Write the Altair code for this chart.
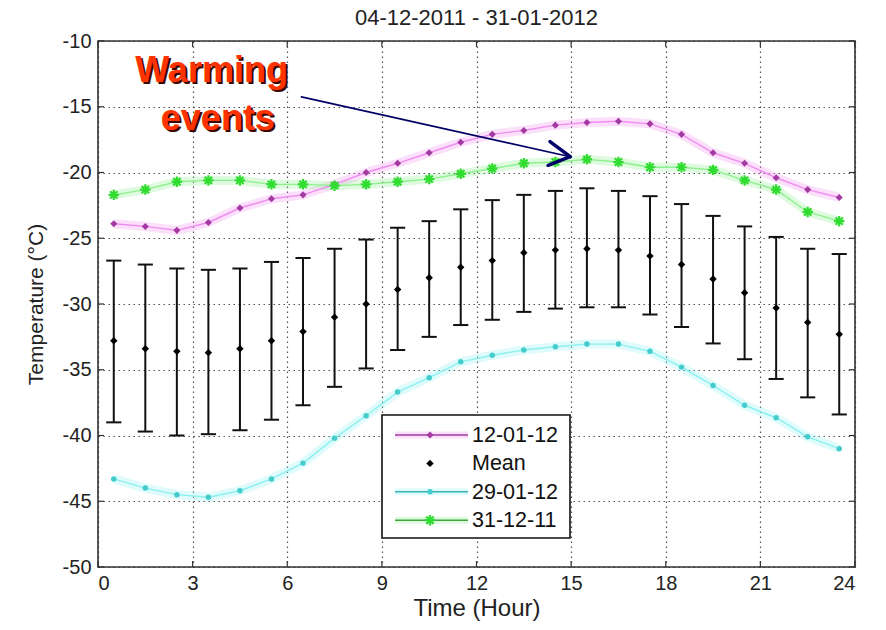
import altair as alt
import pandas as pd

# ---- data -------------------------------------------------------------
HOURS = [0.5, 1.5, 2.5, 3.5, 4.5, 5.5, 6.5, 7.5, 8.5, 9.5, 10.5, 11.5,
         12.5, 13.5, 14.5, 15.5, 16.5, 17.5, 18.5, 19.5, 20.5, 21.5, 22.5, 23.5]

T_120112 = [-23.9, -24.1, -24.4, -23.8, -22.7, -22.0, -21.7, -20.9, -20.0, -19.3, -18.5, -17.7,
            -17.1, -16.8, -16.4, -16.2, -16.1, -16.3, -17.1, -18.5, -19.3, -20.4, -21.3, -21.9]
T_290112 = [-43.3, -44.0, -44.5, -44.7, -44.2, -43.3, -42.1, -40.2, -38.5, -36.7, -35.6, -34.4,
            -33.9, -33.5, -33.25, -33.05, -33.05, -33.6, -34.8, -36.2, -37.7, -38.65, -40.1, -41.0]
T_311211 = [-21.7, -21.3, -20.7, -20.6, -20.6, -20.9, -20.9, -21.0, -20.9, -20.7, -20.5, -20.1,
            -19.7, -19.3, -19.2, -19.0, -19.2, -19.6, -19.6, -19.8, -20.6, -21.3, -23.0, -23.7]

MEAN = [-32.8, -33.4, -33.6, -33.7, -33.4, -32.8, -32.1, -31.0, -30.0, -28.9, -28.0, -27.2,
        -26.7, -26.1, -25.9, -25.8, -25.9, -26.35, -27.0, -28.1, -29.15, -30.3, -31.4, -32.3]
UPPER = [-26.7, -27.0, -27.3, -27.4, -27.3, -26.8, -26.5, -25.8, -25.1, -24.2, -23.7, -22.8,
         -22.1, -21.7, -21.4, -21.2, -21.4, -21.8, -22.4, -23.3, -24.1, -24.9, -25.8, -26.2]
LOWER = [-39.0, -39.7, -40.0, -39.9, -39.6, -38.8, -37.7, -36.3, -34.9, -33.5, -32.5, -31.6,
         -31.2, -30.6, -30.35, -30.25, -30.25, -30.8, -31.75, -33.0, -34.2, -35.7, -37.1, -38.4]

SERIES = ["12-01-12", "29-01-12", "31-12-11"]
LEGEND_LABELS = ["12-01-12", "Mean", "29-01-12", "31-12-11"]

X_TICKS = [0, 3, 6, 9, 12, 15, 18, 21, 24]
Y_TICKS = [-50, -45, -40, -35, -30, -25, -20, -15, -10]

TITLE = "04-12-2011 - 31-01-2012"

# annotation: text anchors and arrow (hour, temperature)
NOTE_TEXT = ["Warming", "events"]
NOTE_X = [3.6, 3.8]
NOTE_Y = [-13.1, -16.75]
ARROW = {"x": [6.45, 14.33, 14.27], "y": [-14.25, -17.65, -19.45],
         "x2": [14.97, 14.97, 14.97], "y2": [-18.8, -18.8, -18.8], "w": [1.6, 3.5, 3.5]}

# ---- styling ------------------------------------------------------------
W, H = 757, 526
FONT = "Liberation Sans"
LINE_COL = ["#A03CA0", "#3BB3B3", "#3FA53F"]
MARK_COL = ["#A23AA2", "#44CCCC", "#2FDC2F"]
HALO_COL = ["#F08CF0", "#8CF0F0", "#8CF08C"]
STAR = "M-1,0L1,0M0,-1L0,1M-0.7,-0.7L0.7,0.7M-0.7,0.7L0.7,-0.7"

xs = alt.Scale(domain=[0, 24], nice=False, zero=False)
ys = alt.Scale(domain=[-50, -10], nice=False, zero=False)

AXX = alt.Axis(values=X_TICKS, title="Time (Hour)", labelExpr="'' + datum.value",
               labelPadding=6, titlePadding=3, titleFontSize=24)
AXY = alt.Axis(values=Y_TICKS, title="Temperature (°C)", labelExpr="'' + datum.value",
               labelPadding=7, titleFontSize=21, titleX=-62, titleY=H / 2, titleAngle=270,
               titleAlign="center", titleBaseline="middle")


def xq(field):
    return alt.X(field, type="quantitative", scale=xs, axis=AXX)


def yq(field):
    return alt.Y(field, type="quantitative", scale=ys, axis=AXY)


def col(rng):
    return alt.Color("series:N", scale=alt.Scale(domain=SERIES, range=rng), legend=None)


series_df = pd.DataFrame({
    "hour": HOURS * 3,
    "temp": T_120112 + T_290112 + T_311211,
    "series": [s for s in SERIES for _ in HOURS],
})
mean_df = pd.DataFrame({"hour": HOURS, "mean": MEAN, "upper": UPPER, "lower": LOWER})

# inward tick marks on all four sides
xt = pd.DataFrame({"hour": X_TICKS})
yt = pd.DataFrame({"temp": Y_TICKS})
tick_style = dict(color="#333", strokeWidth=1.2)
ticks = [
    alt.Chart(xt).mark_rule(**tick_style).encode(x=xq("hour"), y=alt.value(H), y2=alt.value(H - 6)),
    alt.Chart(xt).mark_rule(**tick_style).encode(x=xq("hour"), y=alt.value(0), y2=alt.value(6)),
    alt.Chart(yt).mark_rule(**tick_style).encode(y=yq("temp"), x=alt.value(0), x2=alt.value(6)),
    alt.Chart(yt).mark_rule(**tick_style).encode(y=yq("temp"), x=alt.value(W), x2=alt.value(W - 6)),
]

# mean with error bars
ebar = alt.Chart(mean_df).mark_rule(color="#111", strokeWidth=2).encode(
    x=xq("hour"), y=yq("lower"), y2="upper:Q")
caps = alt.Chart(mean_df).transform_calculate(
    a="datum.hour - 0.24", b="datum.hour + 0.24"
).transform_fold(["lower", "upper"], as_=["end", "val"]).mark_rule(
    color="#111", strokeWidth=2).encode(x=xq("a"), x2="b:Q", y=yq("val"))
mean_pts = alt.Chart(mean_df).mark_point(
    shape="diamond", filled=True, color="#000", size=55, opacity=1).encode(
    x=xq("hour"), y=yq("mean"))

halo = alt.Chart(series_df).mark_line(strokeWidth=9, opacity=0.28).encode(
    x=xq("hour"), y=yq("temp"), color=col(HALO_COL), detail="series:N")
lines = alt.Chart(series_df).mark_line(strokeWidth=1.4).encode(
    x=xq("hour"), y=yq("temp"), color=col(LINE_COL), detail="series:N")


def series_points(i):
    src = alt.Chart(series_df).transform_filter(alt.datum.series == SERIES[i])
    if i == 0:
        m = src.mark_point(shape="diamond", filled=True, size=50, color=MARK_COL[0], opacity=1)
    elif i == 1:
        m = src.mark_point(shape="circle", filled=True, size=30, color=MARK_COL[1], opacity=1)
    else:
        m = src.mark_point(shape=STAR, filled=False, size=110, strokeWidth=2.2,
                           color=MARK_COL[2], opacity=1)
    return m.encode(x=xq("hour"), y=yq("temp"))


# "Warming events" note with shadow and arrow
note_df = pd.DataFrame({"txt": NOTE_TEXT, "hour": NOTE_X, "temp": NOTE_Y})
note_base = alt.Chart(note_df).encode(x=xq("hour"), y=yq("temp"), text="txt:N")
note_shadow = note_base.mark_text(font=FONT, fontSize=36, fontWeight="bold", color="#3a0800",
                                  align="center", baseline="alphabetic", dx=2, dy=2)
note = note_base.mark_text(font=FONT, fontSize=36, fontWeight="bold", color="#FF3300",
                           align="center", baseline="alphabetic")
arrow = alt.Chart(pd.DataFrame(ARROW)).mark_rule(color="#000066", strokeCap="round").encode(
    x=xq("x"), x2="x2:Q", y=yq("y"), y2="y2:Q",
    strokeWidth=alt.StrokeWidth("w:Q", scale=None))

# chart title drawn as text above the frame
title = alt.Chart(pd.DataFrame({"t": [TITLE]})).mark_text(
    font=FONT, fontSize=22, color="#222", align="center", baseline="alphabetic").encode(
    x=alt.value(W / 2), y=alt.value(-16), text="t:N")

# legend box
LX0, LX1, LY0, LY1 = 284, 472, 374, 497
ROW0, ROWSTEP = 394, 28.4
SYM_X0, SYM_X1, SYM_XC, TXT_X = 297, 370, 332, 374
box = alt.Chart(pd.DataFrame({"k": [0]})).mark_rect(
    fill="white", stroke="#111", strokeWidth=1.6).encode(
    x=alt.value(LX0), x2=alt.value(LX1), y=alt.value(LY0), y2=alt.value(LY1))

leg_layers = [box]
leg_line_idx = {0: 0, 2: 1, 3: 2}
for i, lab in enumerate(LEGEND_LABELS):
    ry = ROW0 + i * ROWSTEP
    one = alt.Chart(pd.DataFrame({"label": [lab]}))
    if i in leg_line_idx:
        k = leg_line_idx[i]
        leg_layers.append(one.mark_rule(color=HALO_COL[k], strokeWidth=7, opacity=0.28).encode(
            x=alt.value(SYM_X0), x2=alt.value(SYM_X1), y=alt.value(ry)))
        leg_layers.append(one.mark_rule(color=LINE_COL[k], strokeWidth=1.4).encode(
            x=alt.value(SYM_X0), x2=alt.value(SYM_X1), y=alt.value(ry)))
        if k == 0:
            sym = one.mark_point(shape="diamond", filled=True, size=50, color=MARK_COL[0], opacity=1)
        elif k == 1:
            sym = one.mark_point(shape="circle", filled=True, size=30, color=MARK_COL[1], opacity=1)
        else:
            sym = one.mark_point(shape=STAR, filled=False, size=110, strokeWidth=2.2,
                                 color=MARK_COL[2], opacity=1)
    else:
        sym = one.mark_point(shape="diamond", filled=True, size=55, color="#000", opacity=1)
    leg_layers.append(sym.encode(x=alt.value(SYM_XC), y=alt.value(ry)))
    leg_layers.append(one.mark_text(font=FONT, fontSize=21.5, color="#111", align="left",
                                    baseline="middle").encode(
        x=alt.value(TXT_X), y=alt.value(ry + 1), text="label:N"))

chart = alt.layer(
    *ticks, halo, lines, ebar, caps, mean_pts,
    series_points(1), series_points(0), series_points(2),
    arrow, note_shadow, note, title, *leg_layers,
).properties(
    width=W, height=H,
    background="white",
    autosize=alt.AutoSizeParams(type="none"),
    padding={"left": 98, "top": 41, "right": 31, "bottom": 63},
).configure_view(
    stroke="#333", strokeWidth=1.6
).configure_axis(
    labelFont=FONT, titleFont=FONT, labelFontSize=20, labelColor="#222",
    titleColor="#222", titleFontWeight="normal", domain=False, ticks=False,
    grid=True, gridColor="#333", gridDash=[1.5, 3.5], gridWidth=1.2, gridOpacity=0.85,
)

chart.save("out.html", embed_options={"renderer": "svg", "actions": False})
